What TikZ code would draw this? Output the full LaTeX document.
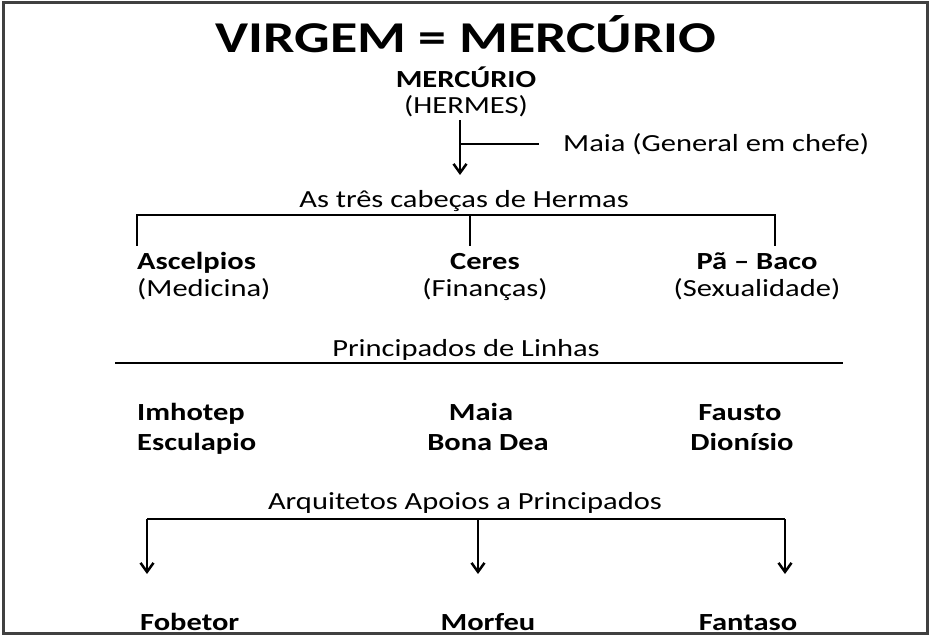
\documentclass[tikz,border=0pt]{standalone}
\usepackage{fontspec}
\usepackage{graphicx}
\setmainfont{Carlito}
\usetikzlibrary{arrows.meta}
\newcommand{\sx}[1]{\scalebox{1.24}[1]{#1}}
\begin{document}
\begin{tikzpicture}[x=1pt,y=-1pt,
  lbl/.style={inner sep=0pt,anchor=base,font=\fontsize{24.6}{28}\selectfont},
  blbl/.style={inner sep=0pt,anchor=base,font=\fontsize{24.6}{28}\selectfont\bfseries},
  ln/.style={line width=2.7pt,black},
  arr/.style={line width=2.7pt,black,-{Straight Barb[length=9pt,width=13pt,line width=2.5pt]}}]
\useasboundingbox (0,0) rectangle (930,636);
\fill[white] (0,0) rectangle (930,636);
\draw[line width=3pt,black!75] (3,3) rectangle (927,633);
% title
\node[inner sep=0pt,anchor=base,font=\fontsize{44}{48}\selectfont\bfseries] (title) at (466,53) {\scalebox{1.27}[1]{VIRGEM = MERCÚRIO}};
\node[blbl] (merc) at (466,88) {\sx{MERCÚRIO}};
\node[lbl] (herm) at (466,114) {\sx{(HERMES)}};
\coordinate (a0) at (460,120);
\coordinate (a1) at (460,175);
\draw[arr] (a0) -- (a1);
\coordinate (b0) at (460,144);
\coordinate (b1) at (539,144);
\draw[ln] (b0) -- (b1);
\node[lbl,anchor=base west] (maia) at (563,152) {\sx{Maia (General em chefe)}};
\node[lbl] (tres) at (464,208) {\sx{As três cabeças de Hermas}};
\coordinate (t1) at (137,215);
\coordinate (t2) at (470,215);
\coordinate (t3) at (775,215);
\draw[ln] (137,246) |- (t1) -- (t3) -- (775,246);
\draw[ln] (t2) -- (470,246);
\node[blbl,anchor=base west] (asc) at (137,270) {\sx{Ascelpios}};
\node[lbl,anchor=base west] (med) at (137,297) {\sx{(Medicina)}};
\node[blbl] (ceres) at (485,270) {\sx{Ceres}};
\node[lbl] (fin) at (485,297) {\sx{(Finanças)}};
\node[blbl] (pa) at (757,270) {\sx{Pã – Baco}};
\node[lbl] (sex) at (757,297) {\sx{(Sexualidade)}};
\node[lbl] (princ) at (466,357) {\sx{Principados de Linhas}};
\coordinate (h1) at (115,363);
\coordinate (h2) at (843,363);
\draw[ln] (h1) -- (h2);
\node[blbl,anchor=base west] (imh) at (137,421) {\sx{Imhotep}};
\node[blbl,anchor=base west] (esc) at (137,451) {\sx{Esculapio}};
\node[blbl] (maia2) at (481,421) {\sx{Maia}};
\node[blbl] (bona) at (488,451) {\sx{Bona Dea}};
\node[blbl] (fau) at (740,421) {\sx{Fausto}};
\node[blbl] (dio) at (742,451) {\sx{Dionísio}};
\node[lbl] (arq) at (465,510) {\sx{Arquitetos Apoios a Principados}};
\coordinate (g1) at (147,519);
\coordinate (g2) at (478,519);
\coordinate (g3) at (785,519);
\draw[ln] (g1) -- (g3);
\draw[arr] (g1) -- (147,574);
\draw[arr] (g2) -- (478,574);
\draw[arr] (g3) -- (785,574);
\node[blbl,anchor=base west] (fob) at (140,630) {\sx{Fobetor}};
\node[blbl] (mor) at (488,630) {\sx{Morfeu}};
\node[blbl] (fan) at (748,630) {\sx{Fantaso}};
\end{tikzpicture}
\end{document}
